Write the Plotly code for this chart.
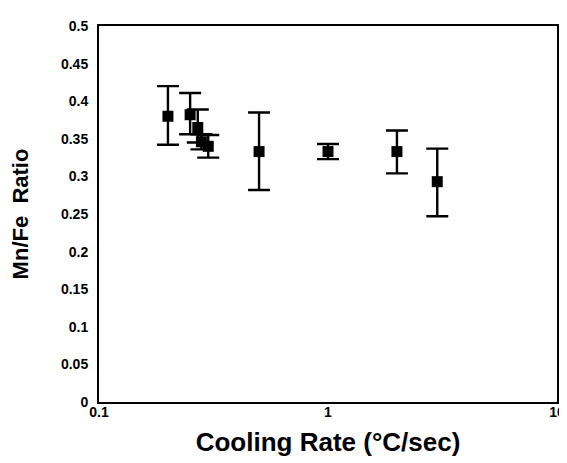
import plotly.graph_objects as go

cooling_rate = [0.20, 0.25, 0.27, 0.28, 0.30, 0.50, 1.0, 2.0, 3.0]
mn_fe = [0.380, 0.382, 0.365, 0.346, 0.340, 0.333, 0.333, 0.333, 0.293]
err_plus = [0.040, 0.029, 0.024, 0.010, 0.015, 0.052, 0.010, 0.028, 0.044]
err_minus = [0.038, 0.026, 0.020, 0.010, 0.015, 0.051, 0.010, 0.029, 0.046]

x_tickvals = [0.1, 1, 10]
x_ticktext = ["0.1", "1", "10"]
y_tickvals = [0, 0.05, 0.1, 0.15, 0.2, 0.25, 0.3, 0.35, 0.4, 0.45, 0.5]
y_ticktext = ["0", "0.05", "0.1", "0.15", "0.2", "0.25", "0.3", "0.35", "0.4", "0.45", "0.5"]

font_family = "Liberation Sans, Arial, Helvetica, sans-serif"

fig = go.Figure()
fig.add_trace(go.Scatter(
    x=cooling_rate, y=mn_fe, mode="markers",
    marker=dict(symbol="square", size=11, color="black"),
    error_y=dict(type="data", symmetric=False, array=err_plus, arrayminus=err_minus,
                 color="black", thickness=2.4, width=11),
    showlegend=False,
))

fig.update_layout(
    width=567, height=463,
    margin=dict(l=91, r=10, t=14, b=69),
    paper_bgcolor="white", plot_bgcolor="white",
    font=dict(family=font_family, color="black"),
)
fig.update_xaxes(
    type="log", range=[-1, 1],
    tickvals=x_tickvals, ticktext=x_ticktext,
    tickfont=dict(size=14, weight="bold"),
    ticklabelstandoff=-4,
    showgrid=False, zeroline=False, ticks="",
    showline=True, linecolor="black", linewidth=2, mirror=True,
    title=dict(text="Cooling Rate (°C/sec)", font=dict(size=26, weight="bold"), standoff=14),
)
fig.update_yaxes(
    range=[0, 0.5],
    tickvals=y_tickvals, ticktext=y_ticktext,
    tickfont=dict(size=14, weight="bold"),
    ticklabelstandoff=6,
    showgrid=False, zeroline=False, ticks="",
    showline=True, linecolor="black", linewidth=2, mirror=True,
    title=dict(text="Mn/Fe  Ratio", font=dict(size=22, weight="bold"), standoff=28),
)

fig.write_html("out.html")
